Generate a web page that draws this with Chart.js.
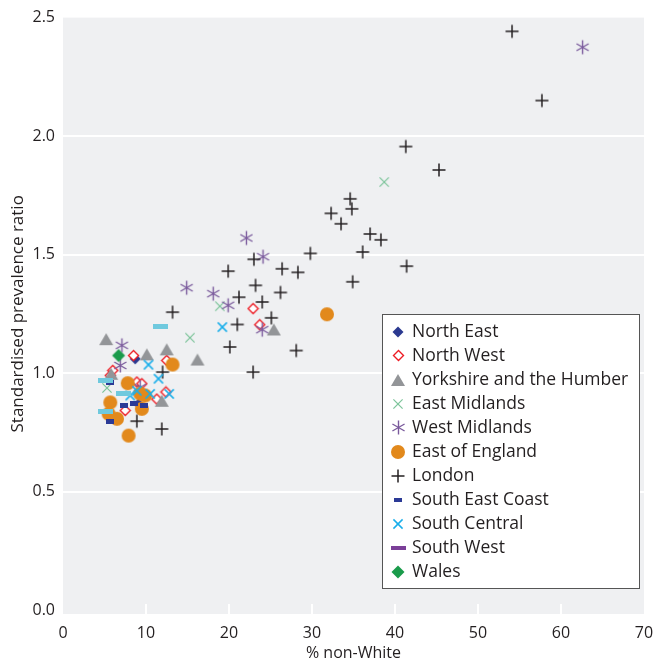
<!DOCTYPE html>
<html>
<head>
<meta charset="utf-8">
<script src="https://cdn.jsdelivr.net/npm/chart.js@4/dist/chart.umd.min.js"></script>
<style>
  html, body { margin: 0; padding: 0; background: #ffffff; }
  #wrap { width: 660px; height: 667px; position: relative; }
</style>
</head>
<body>
<div id="wrap"><canvas id="c" width="660" height="667"></canvas></div>
<script>
// Region names, in legend order
const regions = ['North East', 'North West', 'Yorkshire and the Humber', 'East Midlands',
  'West Midlands', 'East of England', 'London', 'South East Coast', 'South Central',
  'South West', 'Wales'];

// Axis ticks
const xTicks = [0, 10, 20, 30, 40, 50, 60, 70];
const yTicks = ['0.0', '0.5', '1.0', '1.5', '2.0', '2.5'];

// [% non-White, standardised prevalence ratio] per PCT
const northEast = [[8.7, 1.06], [9.1, 0.87]];
const northWest = [[8.5, 1.074], [12.5, 1.053], [6.0, 1.011], [5.7, 0.99], [8.9, 0.962], [9.5, 0.955],
  [12.4, 0.92], [11.3, 0.89], [7.5, 0.842], [22.9, 1.272], [23.7, 1.204]];
const yorkshire = [[5.2, 1.143], [10.1, 1.079], [12.5, 1.10], [16.2, 1.057], [25.4, 1.184],
  [11.9, 0.883], [5.8, 0.997]];
const eastMidlands = [[38.7, 1.806], [18.9, 1.282], [15.3, 1.149], [5.3, 0.937]];
const westMidlands = [[62.6, 2.375], [22.1, 1.570], [24.1, 1.491], [14.9, 1.36], [18.1, 1.335],
  [19.9, 1.286], [24.0, 1.183], [7.1, 1.117], [6.9, 1.032], [9.3, 0.94]];
const eastOfEngland = [[31.8, 1.248], [13.2, 1.036], [7.8, 0.957], [9.9, 0.905], [9.3, 0.913],
  [9.5, 0.849], [5.7, 0.876], [5.5, 0.828], [6.5, 0.807], [7.9, 0.736]];
const london = [[54.1, 2.442], [57.7, 2.150], [41.3, 1.956], [45.3, 1.857], [34.6, 1.735],
  [34.8, 1.693], [32.3, 1.674], [33.5, 1.630], [37.0, 1.587], [38.3, 1.562], [36.1, 1.511],
  [41.4, 1.451], [34.9, 1.385], [29.8, 1.505], [23.0, 1.480], [19.9, 1.43], [26.4, 1.44],
  [28.3, 1.425], [23.2, 1.37], [26.2, 1.34], [21.2, 1.32], [24.0, 1.30], [13.2, 1.257],
  [25.1, 1.233], [21.0, 1.205], [20.1, 1.11], [28.1, 1.095], [22.9, 1.004], [12.0, 1.004],
  [8.9, 0.797], [11.9, 0.764]];
const southEastCoast = [[5.7, 0.96], [7.3, 0.863], [8.5, 0.87], [9.7, 0.863], [5.7, 0.795]];
const southCentral = [[19.2, 1.194], [10.3, 1.035], [11.5, 0.976], [10.5, 0.912], [12.8, 0.912],
  [8.1, 0.905], [8.9, 0.925]];
const southWest = [[11.7, 1.197], [5.1, 0.969], [7.3, 0.912], [5.1, 0.838]];
const wales = [[6.7, 1.074]];

const seriesData = [northEast, northWest, yorkshire, eastMidlands, westMidlands, eastOfEngland,
  london, southEastCoast, southCentral, southWest, wales];

// ---- marker images ----
function makeCanvas(w, h, draw) {
  const c = document.createElement('canvas');
  c.width = w; c.height = h;
  const g = c.getContext('2d');
  draw(g, w / 2, h / 2);
  return c;
}
function diamond(half, fill, stroke, lw) {
  const s = Math.ceil(half * 2 + 3);
  return makeCanvas(s, s, (g, cx, cy) => {
    g.beginPath();
    g.moveTo(cx, cy - half); g.lineTo(cx + half, cy); g.lineTo(cx, cy + half); g.lineTo(cx - half, cy);
    g.closePath();
    g.fillStyle = fill; g.fill();
    if (stroke) { g.strokeStyle = stroke; g.lineWidth = lw; g.stroke(); }
  });
}
function triangle(w, h, fill) {
  return makeCanvas(w + 2, h + 2, (g, cx, cy) => {
    g.beginPath();
    g.moveTo(cx, cy - h / 2); g.lineTo(cx + w / 2, cy + h / 2); g.lineTo(cx - w / 2, cy + h / 2);
    g.closePath(); g.fillStyle = fill; g.fill();
  });
}
function circle(r, fill) {
  const s = Math.ceil(r * 2 + 2);
  return makeCanvas(s, s, (g, cx, cy) => {
    g.beginPath(); g.arc(cx, cy, r, 0, Math.PI * 2); g.fillStyle = fill; g.fill();
  });
}
function spokes(half, color, lw, angles) {
  const s = Math.ceil(half * 2 + 3);
  return makeCanvas(s, s, (g, cx, cy) => {
    g.strokeStyle = color; g.lineWidth = lw; g.lineCap = 'butt';
    angles.forEach(a => {
      const dx = Math.cos(a) * half, dy = Math.sin(a) * half;
      g.beginPath(); g.moveTo(cx - dx, cy - dy); g.lineTo(cx + dx, cy + dy); g.stroke();
    });
  });
}
function bar(w, h, fill) {
  return makeCanvas(w, h, (g) => { g.fillStyle = fill; g.fillRect(0, 0, w, h); });
}
const D = Math.PI / 180;
const markers = [
  diamond(5.5, '#2b3990'),
  diamond(5, '#ffffff', '#ed1c24', 1.4),
  triangle(14, 12, '#939598'),
  spokes(6.5, '#7cc49a', 1.2, [45 * D, 135 * D]),
  spokes(7, '#7a5a9c', 1.4, [90 * D, 30 * D, 150 * D]),
  circle(7, '#e2891c'),
  spokes(6.5, '#231f20', 1.5, [0, 90 * D]),
  bar(8, 5, '#2b3a96'),
  spokes(6.5, '#19aeea', 1.5, [45 * D, 135 * D]),
  bar(15, 5, '#6fc9de'),
  diamond(6.5, '#1a9b4b')
];
// Legend entry images (the South West key is purple)
const legendMarkers = markers.slice();
legendMarkers[9] = bar(15, 4, '#7b3f98');
legendMarkers[7] = bar(8, 4, '#2b3a96');

const FONT = "'Open Sans', 'Noto Sans', sans-serif";
const TEXT = '#231f20';

const datasets = regions.map((name, i) => ({
  label: name,
  data: seriesData[i].map(p => ({ x: p[0], y: p[1] })),
  pointStyle: markers[i],
  pointRadius: 6,
  pointHoverRadius: 6,
  order: regions.length - i,
  clip: false
}));

// Grey panel with white tick marks along the bottom edge
const panel = {
  id: 'panel',
  beforeDraw(chart) {
    const { ctx, chartArea: a, scales } = chart;
    ctx.save();
    ctx.fillStyle = '#eff0f2';
    ctx.fillRect(a.left, a.top, a.right - a.left, a.bottom - a.top + 4);
    ctx.strokeStyle = '#ffffff';
    ctx.lineWidth = 2;
    xTicks.forEach(v => {
      if (v === 0 || v === 70) return;
      const px = Math.round(scales.x.getPixelForValue(v));
      ctx.beginPath(); ctx.moveTo(px, a.bottom - 6); ctx.lineTo(px, a.bottom + 4); ctx.stroke();
    });
    ctx.restore();
  }
};

// Boxed key inside the plot
const keyBox = {
  id: 'keyBox',
  afterDraw(chart) {
    const ctx = chart.ctx;
    const left = 382.5, top = 314.5, w = 257, h = 274;
    ctx.save();
    ctx.fillStyle = '#ffffff';
    ctx.fillRect(left, top, w, h);
    ctx.strokeStyle = '#555555';
    ctx.lineWidth = 1;
    ctx.strokeRect(left, top, w, h);
    ctx.font = '17.5px ' + FONT;
    ctx.fillStyle = TEXT;
    ctx.textBaseline = 'middle';
    regions.forEach((name, i) => {
      const y = 331.5 + 24 * i;
      const m = legendMarkers[i];
      ctx.drawImage(m, Math.round(398 - m.width / 2), Math.round(y - m.height / 2));
      ctx.fillText(name, 412, y + 1);
    });
    ctx.restore();
  }
};

new Chart(document.getElementById('c'), {
  type: 'scatter',
  data: { datasets },
  plugins: [panel, keyBox],
  options: {
    responsive: false,
    animation: false,
    events: [],
    layout: { padding: { top: 15, right: 16, left: 0, bottom: 0 } },
    plugins: { legend: { display: false }, tooltip: { enabled: false } },
    scales: {
      x: {
        type: 'linear', min: 0, max: 70,
        afterBuildTicks: s => { s.ticks = xTicks.map(v => ({ value: v })); },
        afterFit: s => { s.height = 57; },
        border: { display: false },
        grid: { display: false },
        ticks: { color: TEXT, font: { family: FONT, size: 16 }, padding: 6, maxRotation: 0,
          callback: v => String(v) },
        title: { display: true, text: '% non-White', color: TEXT,
          font: { family: FONT, size: 16 }, padding: { top: 0, bottom: 4 } }
      },
      y: {
        type: 'linear', min: 0, max: 2.5,
        afterBuildTicks: s => { s.ticks = yTicks.map(t => ({ value: parseFloat(t) })); },
        afterFit: s => { s.width = 63; },
        border: { display: false },
        grid: {
          drawTicks: false,
          lineWidth: 2,
          color: c => (c.tick && (c.tick.value === 0 || c.tick.value === 2.5)) ? 'rgba(0,0,0,0)' : '#ffffff'
        },
        ticks: { color: TEXT, font: { family: FONT, size: 16 }, padding: 8,
          callback: (v, i) => yTicks[i] },
        title: { display: true, text: 'Standardised prevalence ratio', color: TEXT,
          font: { family: FONT, size: 17 }, padding: { top: 8, bottom: 0 } }
      }
    }
  }
});
</script>
</body>
</html>
